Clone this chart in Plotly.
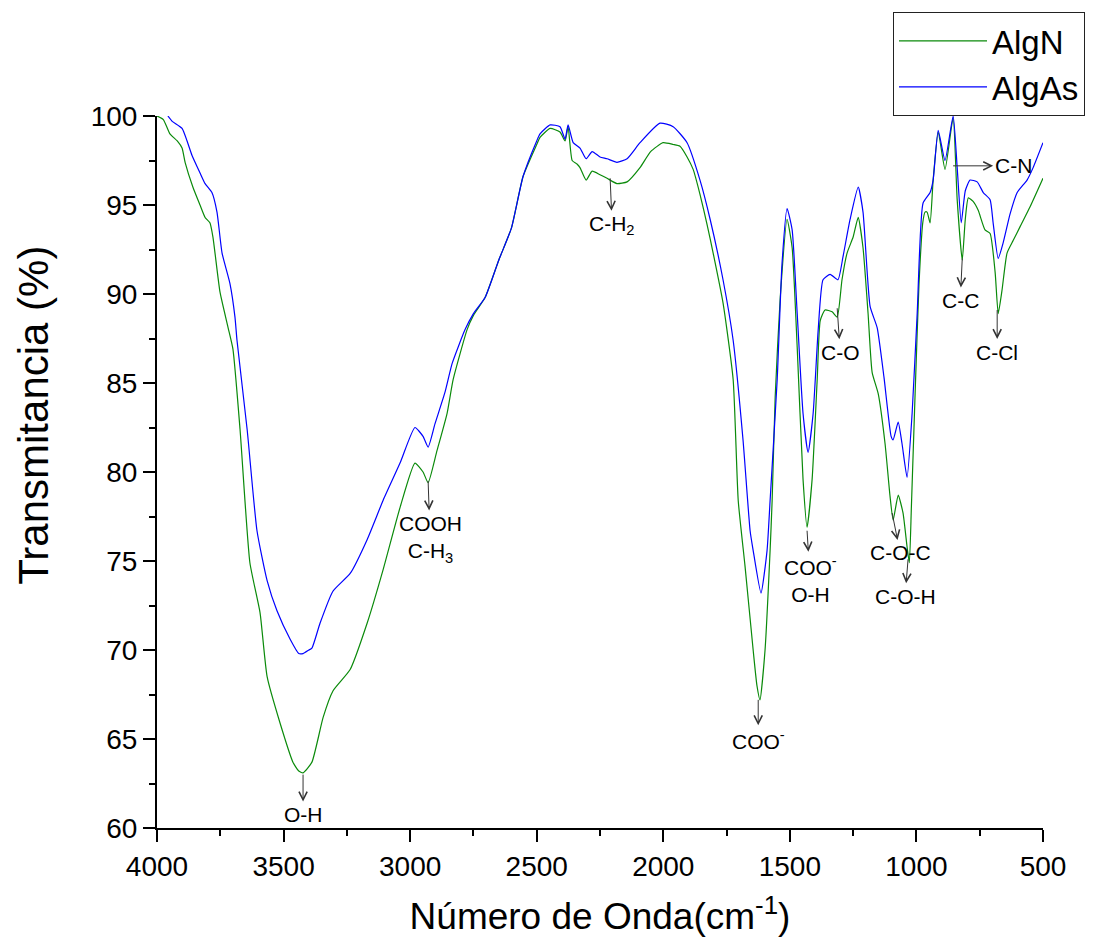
import plotly.graph_objects as go

# ---------------- data ----------------
algn_x = [4000, 3975, 3949, 3920, 3901, 3889, 3858, 3830, 3810, 3791, 3779, 3751, 3719, 3700,
          3672, 3633, 3593, 3565, 3514, 3463, 3440, 3423, 3388, 3344, 3305, 3237, 3170, 3107,
          3040, 2981, 2949, 2929, 2894, 2854, 2830, 2775, 2750, 2704, 2650, 2600, 2554, 2500,
          2487, 2447, 2408, 2388, 2376, 2360, 2341, 2329, 2305, 2281, 2250, 2222, 2183, 2143,
          2092, 2050, 2001, 1961, 1934, 1906, 1882, 1855, 1827, 1803, 1764, 1724, 1704, 1677,
          1645, 1630, 1618, 1598, 1578, 1570, 1558, 1538, 1511, 1491, 1471, 1448, 1432, 1412,
          1392, 1380, 1361, 1333, 1313, 1294, 1274, 1250, 1230, 1211, 1191, 1175, 1151, 1124,
          1104, 1092, 1072, 1053, 1037, 1028, 1020, 1005, 990, 975, 966, 958, 946, 934, 914,
          887, 855, 839, 819, 807, 795, 776, 756, 729, 709, 689, 677, 662, 642, 618, 590, 551, 500]
algn_y = [100.0, 99.8, 99.0, 98.6, 98.2, 97.4, 96.0, 95.0, 94.3, 94.0, 93.2, 90.1, 88.1, 86.9,
          82.4, 74.9, 72.1, 68.5, 65.9, 63.7, 63.2, 63.1, 63.7, 66.2, 67.7, 68.9, 71.5, 74.5,
          78.0, 80.5, 80.0, 79.4, 81.2, 83.3, 85.2, 88.0, 88.8, 89.8, 91.9, 93.7, 96.6, 98.4,
          98.8, 99.3, 99.1, 98.6, 99.4, 97.5, 97.3, 97.1, 96.4, 96.9, 96.7, 96.5, 96.2, 96.3,
          97.1, 98.0, 98.5, 98.4, 98.3, 97.7, 97.0, 95.6, 93.9, 92.3, 89.5, 85.2, 78.4, 74.7,
          70.0, 68.0, 67.2, 70.0, 75.6, 78.4, 84.2, 89.8, 94.2, 92.6, 87.0, 79.6, 76.9, 79.6,
          85.2, 88.5, 89.1, 89.0, 88.7, 90.8, 92.3, 93.2, 94.3, 92.6, 88.9, 85.6, 84.4, 81.6,
          78.6, 77.3, 78.7, 77.7, 75.8, 74.9, 78.0, 84.5, 90.5, 94.0, 94.6, 94.6, 94.0, 96.4, 99.1,
          97.0, 99.9, 95.3, 91.9, 94.2, 95.4, 95.2, 94.7, 93.6, 93.4, 91.2, 88.9, 90.2, 92.3, 93.0,
          93.8, 94.9, 96.5]

algas_x = [3957, 3940, 3901, 3862, 3830, 3810, 3783, 3763, 3743, 3712, 3692, 3684, 3644, 3605,
           3565, 3526, 3474, 3440, 3423, 3400, 3388, 3356, 3305, 3237, 3170, 3107, 3040, 2981,
           2949, 2929, 2902, 2862, 2834, 2783, 2750, 2704, 2650, 2600, 2554, 2500, 2487, 2447,
           2408, 2388, 2376, 2356, 2329, 2305, 2281, 2250, 2222, 2183, 2143, 2092, 2013, 1961,
           1906, 1855, 1815, 1764, 1724, 1685, 1657, 1645, 1614, 1590, 1578, 1550, 1531, 1511,
           1491, 1471, 1448, 1428, 1408, 1388, 1369, 1341, 1310, 1290, 1262, 1230, 1211, 1183,
           1155, 1128, 1100, 1092, 1072, 1057, 1037, 1017, 997, 974, 946, 934, 914, 887, 855,
           839, 823, 807, 788, 760, 736, 709, 697, 677, 657, 630, 602, 563, 539, 500]
algas_y = [100.0, 99.7, 99.3, 97.8, 96.8, 96.2, 95.7, 94.6, 92.3, 90.6, 88.7, 87.4, 82.4, 76.7,
           73.9, 72.2, 70.6, 69.8, 69.8, 70.0, 70.1, 71.5, 73.3, 74.3, 76.2, 78.4, 80.5, 82.5,
           82.0, 81.4, 82.7, 84.5, 86.1, 88.0, 88.9, 89.8, 91.9, 93.7, 96.6, 98.6, 99.0, 99.5,
           99.4, 98.7, 99.5, 98.5, 98.2, 97.6, 98.0, 97.7, 97.6, 97.4, 97.6, 98.5, 99.6, 99.4,
           98.5, 96.4, 94.2, 90.8, 87.4, 81.8, 76.7, 75.6, 73.2, 75.6, 78.4, 85.2, 91.7, 94.8,
           93.6, 88.9, 83.3, 81.1, 83.3, 88.0, 90.8, 91.1, 90.8, 92.1, 94.2, 96.0, 94.6, 89.3,
           88.1, 85.3, 82.0, 81.8, 82.8, 81.6, 79.7, 83.3, 88.9, 95.1, 95.7, 96.4, 99.2, 97.5, 100.0,
           97.1, 94.0, 95.8, 96.4, 96.3, 95.7, 95.3, 94.0, 92.0, 92.9, 94.5, 95.7, 96.4, 97.1, 98.5]

# band assignments: point on the spectrum (wavenumber, transmittance) and label
band_labels = ["O-H", "COOH<br>C-H<sub>3</sub>", "C-H<sub>2</sub>", "COO<sup>-</sup>",
               "COO<sup>-</sup><br>O-H", "C-O", "C-O-C", "C-O-H", "C-C", "C-Cl", "C-N"]
band_x = [3423, 2929, 2210, 1625, 1432, 1313, 1096, 1033, 819, 681, 855]
band_y = [63.0, 79.5, 96.5, 67.2, 76.7, 89.2, 77.7, 75.1, 92.0, 89.1, 97.2]
# label offset from the band point, in pixels
band_ax = [0, 2, 2, 0, 3, 3, 8, -3, -2, 0, 60]
band_ay = [40, 58, 47, 40, 49, 44, 40, 37, 42, 42, 0]

x_ticks = [4000, 3500, 3000, 2500, 2000, 1500, 1000, 500]
y_ticks = [60, 65, 70, 75, 80, 85, 90, 95, 100]

GREEN = "#0a8a0a"
BLUE = "#0000ff"
FONT = "Liberation Sans, Arial, sans-serif"

fig = go.Figure()
fig.add_trace(go.Scatter(x=algn_x, y=algn_y, mode="lines", name="AlgN",
                         line=dict(color=GREEN, width=1.2, shape="spline", smoothing=0.5)))
fig.add_trace(go.Scatter(x=algas_x, y=algas_y, mode="lines", name="AlgAs",
                         line=dict(color=BLUE, width=1.2, shape="spline", smoothing=0.5)))

annotations = []
for lab, bx, by, ax, ay in zip(band_labels, band_x, band_y, band_ax, band_ay):
    annotations.append(dict(x=bx, y=by, xref="x", yref="y", text=lab, showarrow=True,
                            ax=ax, ay=ay, arrowside="start", startarrowhead=5,
                            startarrowsize=1.6, arrowwidth=1, arrowcolor="#333333",
                            startstandoff=1, borderpad=0,
                            font=dict(family=FONT, size=21, color="black")))

# y-axis title (placed as in the reference, above the axis centre)
annotations.append(dict(xref="paper", yref="paper", x=(34 - 157) / 886, y=0.579,
                        text="Transmitancia (%)", textangle=-90, showarrow=False,
                        xanchor="center", yanchor="middle",
                        font=dict(family=FONT, size=42, color="black")))

fig.update_layout(
    width=1094, height=946,
    margin=dict(l=149, r=59, t=108, b=126, autoexpand=False),
    paper_bgcolor="white", plot_bgcolor="white",
    font=dict(family=FONT, color="black"),
    annotations=annotations,
    showlegend=True,
    legend=dict(xref="container", yref="container", x=885/1094, y=1 - 4/946,
                xanchor="left", yanchor="top", bgcolor="white", bordercolor="#222222",
                borderwidth=1, font=dict(family=FONT, size=33, color="black"),
                itemwidth=88, tracegroupgap=0),
    xaxis=dict(range=[4000, 500], tickvals=x_ticks, ticktext=[str(v) for v in x_ticks],
               ticks="outside", ticklen=12, tickwidth=2, tickcolor="black",
               minor=dict(ticks="outside", dtick=250, tick0=500, ticklen=6, tickwidth=2,
                          tickcolor="black"),
               showline=True, linewidth=2, linecolor="black", showgrid=False, zeroline=False,
               tickfont=dict(family=FONT, size=28),
               title=dict(text="Número de Onda(cm<sup>-1</sup>)", standoff=23,
                          font=dict(family=FONT, size=37))),
    yaxis=dict(range=[60, 100], tickvals=y_ticks, ticks="outside", ticklen=12, tickwidth=2,
               tickcolor="black",
               minor=dict(ticks="outside", dtick=2.5, tick0=60, ticklen=6, tickwidth=2,
                          tickcolor="black"),
               showline=True, linewidth=2, linecolor="black", showgrid=False, zeroline=False,
               tickfont=dict(family=FONT, size=28)),
)

fig.write_html("out.html")
